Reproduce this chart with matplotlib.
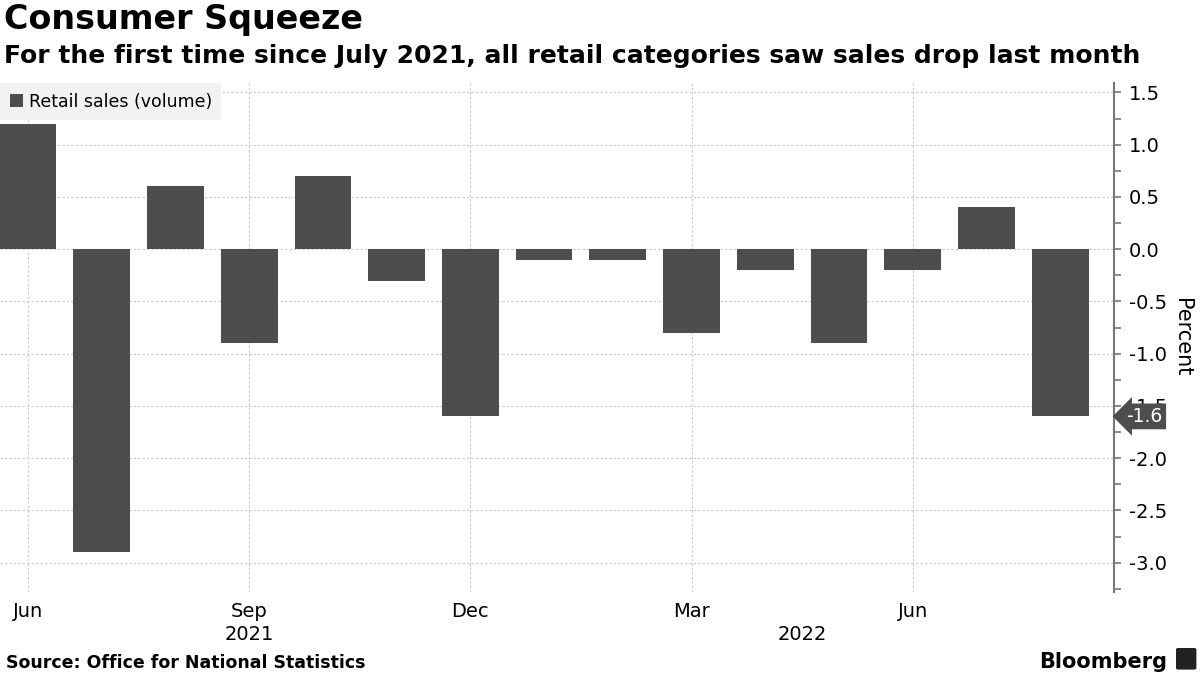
import matplotlib
matplotlib.use('Agg')
import matplotlib.pyplot as plt
from matplotlib.patches import FancyBboxPatch
import numpy as np

# monthly retail sales volume change, Jun 2021 .. Aug 2022
months = ['Jun', 'Jul', 'Aug', 'Sep', 'Oct', 'Nov', 'Dec',
          'Jan', 'Feb', 'Mar', 'Apr', 'May', 'Jun', 'Jul', 'Aug']
years = [2021] * 7 + [2022] * 8
values = [1.2, -2.9, 0.6, -0.9, 0.7, -0.3, -1.6,
          -0.1, -0.1, -0.8, -0.2, -0.9, -0.2, 0.4, -1.6]
tick_months = ['Jun', 'Sep', 'Dec', 'Mar']
yticks = [1.5, 1.0, 0.5, 0.0, -0.5, -1.0, -1.5, -2.0, -2.5, -3.0]

BAR = '#4d4d4d'
GRID = '#c8c8c8'

fig = plt.figure(figsize=(12, 6.75), dpi=100)
ax = fig.add_axes([0.0, 0.123, 0.9283, 0.754])

x = np.arange(len(values))
ax.bar(x, values, width=0.77, color=BAR, label='Retail sales (volume)', zorder=3)

ax.set_xlim(-0.38, 14.73)
ax.set_ylim(-3.28, 1.59)

# right-hand y axis
ax.yaxis.tick_right()
ax.yaxis.set_label_position('right')
ax.set_yticks(yticks)
ax.set_yticklabels([f'{v:.1f}' for v in yticks], fontsize=14)
ax.set_yticks(np.arange(-3.25, 1.6, 0.25), minor=True)
ax.tick_params(axis='y', which='both', direction='out', length=5, width=1.2,
               color='#777777', pad=6)
ax.set_ylabel('Percent', fontsize=15, rotation=-90, labelpad=18)

# quarterly month ticks, years centred below
xt = [i for i, m in enumerate(months) if m in tick_months]
ax.set_xticks(xt)
ax.set_xticklabels([months[i] for i in xt], fontsize=14)
ax.tick_params(axis='x', length=0, pad=7)
for yr in sorted(set(years)):
    idx = [i for i, y in enumerate(years) if y == yr]
    ax.text((idx[0] + idx[-1]) / 2, -0.083, str(yr), transform=ax.get_xaxis_transform(),
            ha='center', va='center', fontsize=14)

ax.grid(True, axis='both', which='major', color=GRID, linestyle=(0, (2, 2)),
        linewidth=0.8, zorder=0)
for s in ['top', 'left', 'bottom']:
    ax.spines[s].set_visible(False)
ax.spines['right'].set_color('#777777')
ax.spines['right'].set_linewidth(1.5)

# last value tag
last = values[-1]
ax.annotate(f'{last:.1f}', xy=(1.0, last), xycoords=('axes fraction', 'data'),
            xytext=(9, 0), textcoords='offset points', ha='left', va='center',
            fontsize=13.5, color='white', zorder=5,
            bbox=dict(boxstyle='larrow,pad=0.18', fc=BAR, ec='none'))

leg = ax.legend(loc='upper left', bbox_to_anchor=(0.0, 1.0), borderaxespad=0,
                frameon=True, fancybox=False, fontsize=12.5, handlelength=0.8,
                handleheight=0.8, handletextpad=0.3, borderpad=0.55)
leg.get_frame().set_facecolor('#f2f2f2')
leg.get_frame().set_edgecolor('none')
leg.get_frame().set_alpha(1)

fig.text(0.003, 0.995, 'Consumer Squeeze', fontsize=24, fontweight='bold', va='top')
fig.text(0.003, 0.935, 'For the first time since July 2021, all retail categories saw sales drop last month',
         fontsize=18, fontweight='bold', va='top')
fig.text(0.005, 0.005, 'Source: Office for National Statistics', fontsize=12.5,
         fontweight='bold', va='bottom')
fig.text(0.973, 0.005, 'Bloomberg', fontsize=15, fontweight='bold', va='bottom', ha='right')
# small logo mark next to the wordmark
fig.patches.append(FancyBboxPatch((0.982, 0.01), 0.013, 0.028, boxstyle='round,pad=0.002',
                                  transform=fig.transFigure, fc='#222222', ec='none'))

fig.savefig('out.png', dpi=100)
